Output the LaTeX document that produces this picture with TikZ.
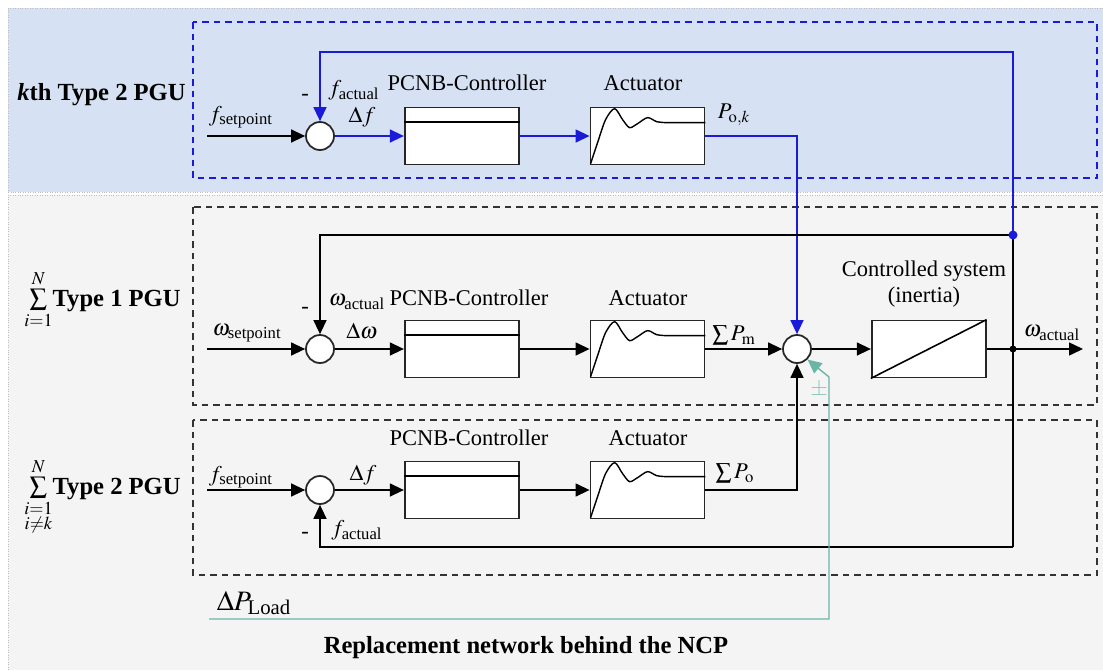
\documentclass[tikz,border=0pt]{standalone}
\usepackage{amsmath}
\usepackage{mathptmx}
\usepackage{fontspec}
\setmainfont{Liberation Serif}
\usetikzlibrary{arrows.meta,positioning,calc}
\definecolor{netzblau}{HTML}{1A1AD9}
\definecolor{lastgruen}{HTML}{6BB5A6}
\definecolor{hgblau}{HTML}{D6E2F3}
\definecolor{hggrau}{HTML}{F4F4F4}
\newcommand{\sprungkurve}[1]{%
  \draw[line width=0.8pt] plot[smooth, tension=0.5] coordinates {([shift={(1,57)}]#1.north west) ([shift={(8,36)}]#1.north west) ([shift={(16,13)}]#1.north west) ([shift={(25,2)}]#1.north west) ([shift={(33,13)}]#1.north west) ([shift={(40,21)}]#1.north west) ([shift={(48,17)}]#1.north west) ([shift={(58,11)}]#1.north west) ([shift={(67,15)}]#1.north west) ([shift={(76,16)}]#1.north west)} -- ([shift={(0,16)}]#1.north east);}

\begin{document}
\begin{tikzpicture}[
          x=0.02cm, y=-0.02cm,
          font=\fontsize{12.8}{15}\selectfont,
          blk/.style={draw=black!85, line width=1pt, fill=white, minimum width=2.28cm, minimum height=1.14cm, inner sep=0pt},
          sumc/.style={circle, draw=black!85, line width=1pt, fill=white, minimum size=0.56cm, inner sep=0pt},
          fl/.style={-{Triangle[length=2.8mm,width=2.6mm]}, line width=0.8pt},
          ln/.style={line width=0.8pt},
          lbl/.style={font=\fontsize{14}{16}\selectfont\bfseries, inner sep=0pt},
          txt/.style={inner sep=0pt}
        ]
        \useasboundingbox (0,0) rectangle (1103,670);
        \fill[hgblau] (8,8) rectangle (1103,192);
        \draw[densely dotted, black!25] (1103,8) -- (8,8) -- (8,192) -- (1103,192);
        \fill[hggrau] (8,195) rectangle (1103,670);
        \draw[densely dotted, black!25] (1103,195) -- (8,195) -- (8,670);
        \draw[netzblau, line width=0.9pt, dash pattern=on 1.3mm off 1mm] (193,22) rectangle (1097,178);
        \draw[black!80, line width=0.8pt, dash pattern=on 1.3mm off 1mm] (193,207) rectangle (1097,405);
        \draw[black!80, line width=0.8pt, dash pattern=on 1.3mm off 1mm] (193,420) rectangle (1097,575);

        \node[lbl, anchor=base east] (tk) at (186,100) {\textit{k}th Type 2 PGU};
        \node[lbl, anchor=base east] (t1) at (181,306) {{\boldmath$\sum\limits_{i=1}^{N}$}Type 1 PGU};
        \node[lbl, anchor=base east] (t2) at (181,494) {{\boldmath$\sum\limits_{\substack{i=1\\ i\neq k}}^{N}$}Type 2 PGU};

        \node[sumc] (s0) at (320,136) {};
        \node[blk, right=1.38cm of s0] (c0) {};
        \node[blk, right=1.4cm of c0] (a0) {};
        \node[sumc] (s1) at (320,349) {};
        \node[blk, right=1.38cm of s1] (c1) {};
        \node[blk, right=1.4cm of c1] (a1) {};
        \node[sumc] (sum) at (797,349) {};
        \node[blk, right=1.18cm of sum] (sys) {};
        \node[sumc] (s2) at (320,490) {};
        \node[blk, right=1.38cm of s2] (c2) {};
        \node[blk, right=1.4cm of c2] (a2) {};

        \foreach \c in {c0,c1,c2} \draw[line width=0.9pt] ([yshift=-0.31cm]\c.north west) -- ([yshift=-0.31cm]\c.north east);
        \foreach \a in {a0,a1,a2} \sprungkurve{\a};
        \draw[line width=0.9pt] (sys.south west) -- (sys.north east);

        \coordinate (e0) at (207,136);
        \coordinate (e1) at (207,349);
        \coordinate (e2) at (207,490);
        \coordinate (jt) at (1013,235);
        \coordinate (jo) at (1013,349);
        \coordinate (bt) at (1013,52);
        \coordinate (fb) at (1013,547);
        \coordinate (out) at (1083,349);
        \coordinate (ld) at (209,619);
        \coordinate (lk) at (829,377);

        \draw[fl] (e0) -- (s0);
        \draw[fl, netzblau] (s0) -- (c0);
        \draw[fl, netzblau] (c0) -- (a0);
        \draw[fl, netzblau] (a0) -| (sum.north);
        \draw[fl, netzblau] (jt) -- (bt) -| (s0.north);
        \draw[fl] (e1) -- (s1);
        \draw[fl] (s1) -- (c1);
        \draw[fl] (c1) -- (a1);
        \draw[fl] (a1) -- (sum);
        \draw[fl] (sum) -- (sys);
        \draw[fl] (sys) -- (out);
        \draw[fl] (jt) -| (s1.north);
        \draw[ln] (jt) -- (fb);
        \draw[fl] (fb) -| (s2.south);
        \draw[fl] (e2) -- (s2);
        \draw[fl] (s2) -- (c2);
        \draw[fl] (c2) -- (a2);
        \draw[fl] (a2) -| (sum.south);
        \draw[fl, lastgruen] (ld) -| (lk) -- (sum.south east);
        \fill[netzblau] (jt) circle (0.09cm);
        \fill (jo) circle (0.07cm);

        \node[txt] (fsp0) at (241,117) {$f_{\text{setpoint}}$};
        \node[txt] (m0) at (305,97) {-};
        \node[txt] (fa0) at (354,90) {$f_{\text{actual}}$};
        \node[txt] (pc0) at (467,83) {PCNB-Controller};
        \node[txt] (df0) at (362,117) {$\Delta f$};
        \node[txt] (ac0) at (643,83) {Actuator};
        \node[txt] (po) at (734,115) {$P_{\mathrm{o},k}$};
        \node[txt] (wsp) at (247,333) {$\omega_{\text{setpoint}}$};
        \node[txt] (m1) at (305,310) {-};
        \node[txt] (wa1) at (357,302) {$\omega_{\text{actual}}$};
        \node[txt] (pc1) at (469,298) {PCNB-Controller};
        \node[txt] (dw) at (362,331) {$\Delta\omega$};
        \node[txt] (ac1) at (648,298) {Actuator};
        \node[txt] (pm) at (734,335) {$\sum P_{\mathrm{m}}$};
        \node[txt, align=center] (cs) at (924,284) {Controlled system\\(inertia)};
        \node[txt] (wout) at (1052,333) {$\omega_{\text{actual}}$};
        \node[txt] (fsp2) at (241,477) {$f_{\text{setpoint}}$};
        \node[txt] (df2) at (363,475) {$\Delta f$};
        \node[txt] (pc2) at (469,438) {PCNB-Controller};
        \node[txt] (ac2) at (648,438) {Actuator};
        \node[txt] (pso) at (735,473) {$\sum P_{\mathrm{o}}$};
        \node[txt] (m2) at (305,535) {-};
        \node[txt] (fa2) at (357,530) {$f_{\text{actual}}$};
        \node[txt, text=lastgruen!80] (pmz) at (819,390) {$\pm$};
        \node[txt, font=\fontsize{16}{18}\selectfont] (dpl) at (254,603) {$\Delta P_{\text{Load}}$};
        \node[lbl] (titel) at (526,648) {Replacement network behind the NCP};
      \end{tikzpicture}
\end{document}
